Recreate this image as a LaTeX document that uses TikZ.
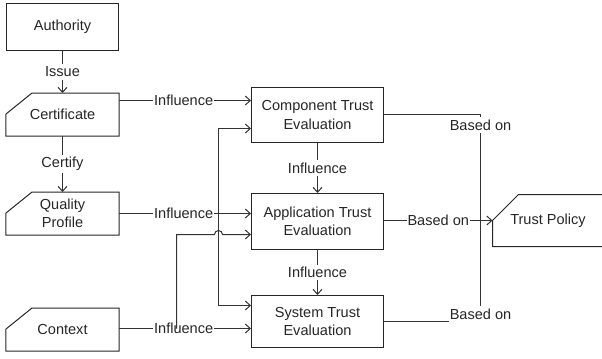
\documentclass[tikz,border=0pt]{standalone}
\usepackage{fontspec}
\setmainfont{Liberation Sans}
\usetikzlibrary{arrows.meta,calc}
\begin{document}
\begin{tikzpicture}[x=1bp,y=-1bp,
  font=\fontsize{14.6}{18.5}\selectfont,
  every node/.style={text=black!85},
  boxline/.style={draw=black!85,line width=1bp},
  box/.style={boxline,minimum width=112bp,minimum height=42bp,align=center,inner sep=0pt},
  cutbox/.style={box,draw=none},
  evalbox/.style={box,minimum width=132bp,minimum height=55bp},
  conn/.style={draw=black!80,line width=1bp},
  arr/.style={conn,-{Straight Barb[length=5pt,width=9pt]}},
  lbl/.style={fill=white,inner xsep=1pt,inner ysep=2.5pt}
]
\useasboundingbox (0,0) rectangle (602,358);

% left column
\node[box,minimum height=47bp] (auth) at (62.5,27) {Authority};
\node[cutbox] (cert) at (62.5,114.5) {Certificate};
\node[cutbox] (qp) at (62.5,213.5) {Quality\\Profile};
\node[cutbox] (ctx) at (62.5,329.5) {Context};
\foreach \n in {cert,qp,ctx}
  \draw[boxline] ([xshift=26bp]\n.north west) -- (\n.north east) -- (\n.south east)
    -- (\n.south west) -- ([yshift=-21bp]\n.north west) -- cycle;

% evaluation column
\node[evalbox] (comp) at (317.5,115) {Component Trust\\Evaluation};
\node[evalbox,minimum height=56bp] (app) at (317.5,221.5) {Application Trust\\Evaluation};
\node[evalbox,minimum height=52bp] (sys) at (317.5,321.5) {System Trust\\Evaluation};

% trust policy
\coordinate (tpnw) at (492.5,194.5);
\coordinate (tpin) at (492.5,220.5);
\coordinate (tpsw) at (492.5,246.5);
\node[inner sep=0pt] (tp) at (548,221) {Trust Policy};
\draw[boxline] (603,194.5) -- ([xshift=26bp]tpnw) -- (tpin) -- (tpsw) -- (603,246.5);

% vertical connectors
\draw[arr] (auth) -- (cert) node[lbl,midway] {Issue};
\draw[arr] (cert) -- (qp) node[lbl,midway] {Certify};
\draw[arr] (comp) -- (app) node[lbl,midway] {Influence};
\draw[arr] (app) -- (sys) node[lbl,midway] {Influence};

% influence connectors
\draw[arr] (cert.east |- 0,100.5) -- (comp.west |- 0,100.5) node[lbl,pos=0.49] {Influence};
\draw[arr] (qp.east |- 0,213.5) -- (app.west |- 0,213.5) node[lbl,pos=0.49] {Influence};
\coordinate (j) at (218.5,213.5);
\draw[arr] (j) |- (comp.west |- 0,128.5);
\draw[arr] (j) |- (sys.west |- 0,305.5);
\draw[arr] (ctx.east |- 0,328.5) -- (sys.west |- 0,328.5) node[lbl,pos=0.49] {Influence};
\coordinate (k) at (176.5,328.5);
\draw[arr] (k) -- (176.5,234.5) -- (214.5,234.5) arc[start angle=180,end angle=0,radius=4bp]
  -- (app.west |- 0,234.5);

% based on connectors
\coordinate (bv) at (480.5,220.5);
\draw[conn] (comp.east |- 0,114.5) -| (bv);
\draw[conn] (sys.east) -| (bv);
\draw[arr] (app.east |- tpin) -- (tpin) node[lbl,pos=0.5] {Based on};
\node[lbl] (b1) at (480.5,125) {Based on};
\node[lbl] (b3) at (480.5,314) {Based on};
\end{tikzpicture}
\end{document}
